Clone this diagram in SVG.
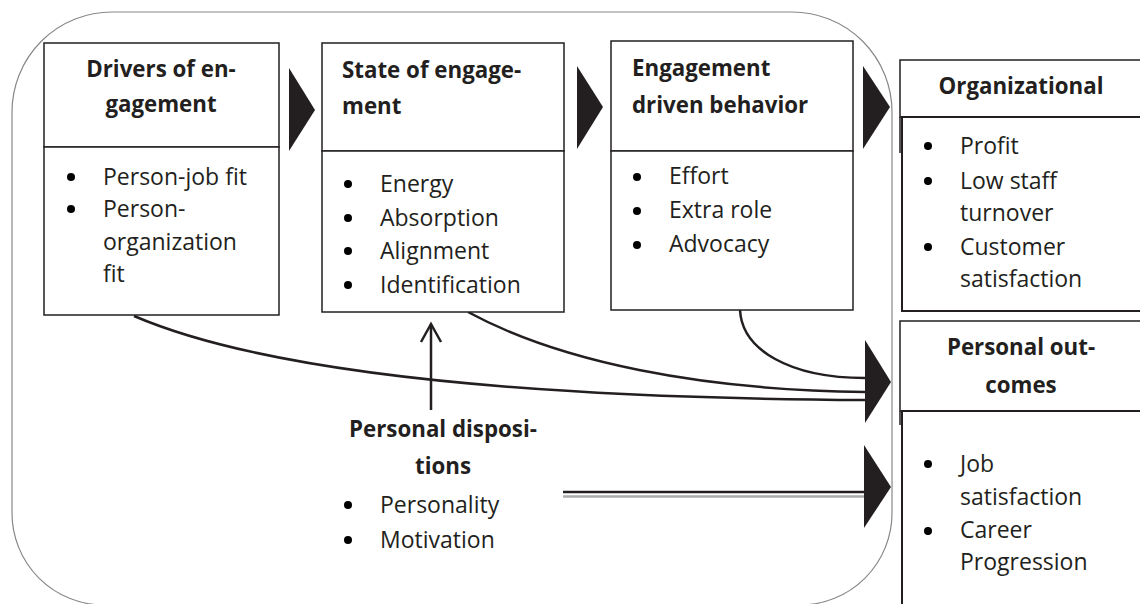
<svg xmlns="http://www.w3.org/2000/svg" width="1140" height="604" viewBox="0 0 1140 604">
<defs>
<style>
.t{font-family:"Open Sans","Liberation Sans",sans-serif;font-size:23px;fill:#231f20}
.b{font-family:"Open Sans","Liberation Sans",sans-serif;font-size:22.3px;font-weight:bold;fill:#231f20}
.c{text-anchor:middle}
.box{fill:#fff;stroke:#231f20;stroke-width:1.5}
.box2{fill:#fff;stroke:#231f20;stroke-width:2}
.tri{fill:#231f20}
.con{fill:none;stroke:#231f20;stroke-width:2.5}
</style>
</defs>
<rect width="1140" height="604" fill="#fff"/>
<path d="M12,112 A100,100 0 0 1 112,12 L792,12 A100,100 0 0 1 892,112 L892,513 A92,92 0 0 1 800,605 L104,605 A92,92 0 0 1 12,513 Z" fill="none" stroke="#888" stroke-width="1.2"/>

<g id="connectors">
<path class="con" d="M134,316 C260,370 500,398 865,400"/>
<path class="con" d="M468,312 C560,362 700,390 865,392"/>
<path class="con" d="M740,310 C742,350 790,378 865,378"/>
<line x1="431" y1="410" x2="431" y2="324" stroke="#231f20" stroke-width="2.5"/>
<polyline points="421,342 431,324 441,342" fill="none" stroke="#231f20" stroke-width="2.5"/>
<line x1="563" y1="492" x2="864" y2="492" stroke="#231f20" stroke-width="2.5"/>
<line x1="563" y1="496.5" x2="864" y2="496.5" stroke="#aaa" stroke-width="2.5"/>
<polygon class="tri" points="289,68 315,110 289,151"/>
<polygon class="tri" points="577,66 603,107 577,149"/>
<polygon class="tri" points="863,66 890,107 863,149"/>
<polygon class="tri" points="865,340 891,382 865,423"/>
<polygon class="tri" points="864,445 891,487 864,528"/>
</g>

<g id="drivers">
<rect class="box" x="44" y="43" width="235" height="104"/>
<rect class="box" x="44" y="147" width="235" height="168"/>
<text class="b c" x="161" y="77">Drivers of en-</text>
<text class="b c" x="161" y="112">gagement</text>
<circle cx="71" cy="177" r="4"/>
<circle cx="71" cy="209" r="4"/>
<text class="t" x="103" y="185">Person-job fit</text>
<text class="t" x="103" y="217">Person-</text>
<text class="t" x="103" y="250">organization</text>
<text class="t" x="103" y="282">fit</text>
</g>

<g id="state">
<rect class="box" x="322" y="43" width="242" height="108"/>
<rect class="box" x="322" y="151" width="242" height="161"/>
<text class="b" x="342" y="78">State of engage-</text>
<text class="b" x="342" y="114">ment</text>
<circle cx="348" cy="184" r="4"/>
<circle cx="348" cy="218" r="4"/>
<circle cx="348" cy="251" r="4"/>
<circle cx="348" cy="285" r="4"/>
<text class="t" x="380" y="192">Energy</text>
<text class="t" x="380" y="226">Absorption</text>
<text class="t" x="380" y="259">Alignment</text>
<text class="t" x="380" y="293">Identification</text>
</g>

<g id="behavior">
<rect class="box" x="611" y="41" width="242" height="110"/>
<rect class="box" x="611" y="151" width="242" height="159"/>
<text class="b" x="632" y="76">Engagement</text>
<text class="b" x="632" y="113">driven behavior</text>
<circle cx="637" cy="177" r="4"/>
<circle cx="637" cy="211" r="4"/>
<circle cx="637" cy="245" r="4"/>
<text class="t" x="669" y="184">Effort</text>
<text class="t" x="669" y="218">Extra role</text>
<text class="t" x="669" y="252">Advocacy</text>
</g>

<g id="organizational">
<rect class="box" x="900" y="60" width="250" height="57"/>
<line x1="900" y1="117" x2="900" y2="153" stroke="#231f20" stroke-width="1.5"/>
<rect class="box2" x="902" y="117" width="250" height="194"/>
<text class="b c" x="1021" y="94">Organizational</text>
<circle cx="928" cy="146" r="4"/>
<circle cx="928" cy="181" r="4"/>
<circle cx="928" cy="247" r="4"/>
<text class="t" x="960" y="154">Profit</text>
<text class="t" x="960" y="189">Low staff</text>
<text class="t" x="960" y="221">turnover</text>
<text class="t" x="960" y="255">Customer</text>
<text class="t" x="960" y="287">satisfaction</text>
</g>

<g id="personal-outcomes">
<rect class="box" x="900" y="321" width="250" height="90"/>
<line x1="900" y1="411" x2="900" y2="425" stroke="#231f20" stroke-width="1.5"/>
<rect class="box2" x="902" y="411" width="250" height="210"/>
<text class="b c" x="1021" y="355">Personal out-</text>
<text class="b c" x="1021" y="393">comes</text>
<circle cx="928" cy="464" r="4"/>
<circle cx="928" cy="531" r="4"/>
<text class="t" x="960" y="472">Job</text>
<text class="t" x="960" y="505">satisfaction</text>
<text class="t" x="960" y="538">Career</text>
<text class="t" x="960" y="570">Progression</text>
</g>

<g id="dispositions">
<text class="b c" x="443" y="437">Personal disposi-</text>
<text class="b c" x="443" y="474">tions</text>
<circle cx="348" cy="505" r="4"/>
<circle cx="348" cy="540" r="4"/>
<text class="t" x="380" y="513">Personality</text>
<text class="t" x="380" y="548">Motivation</text>
</g>
</svg>
